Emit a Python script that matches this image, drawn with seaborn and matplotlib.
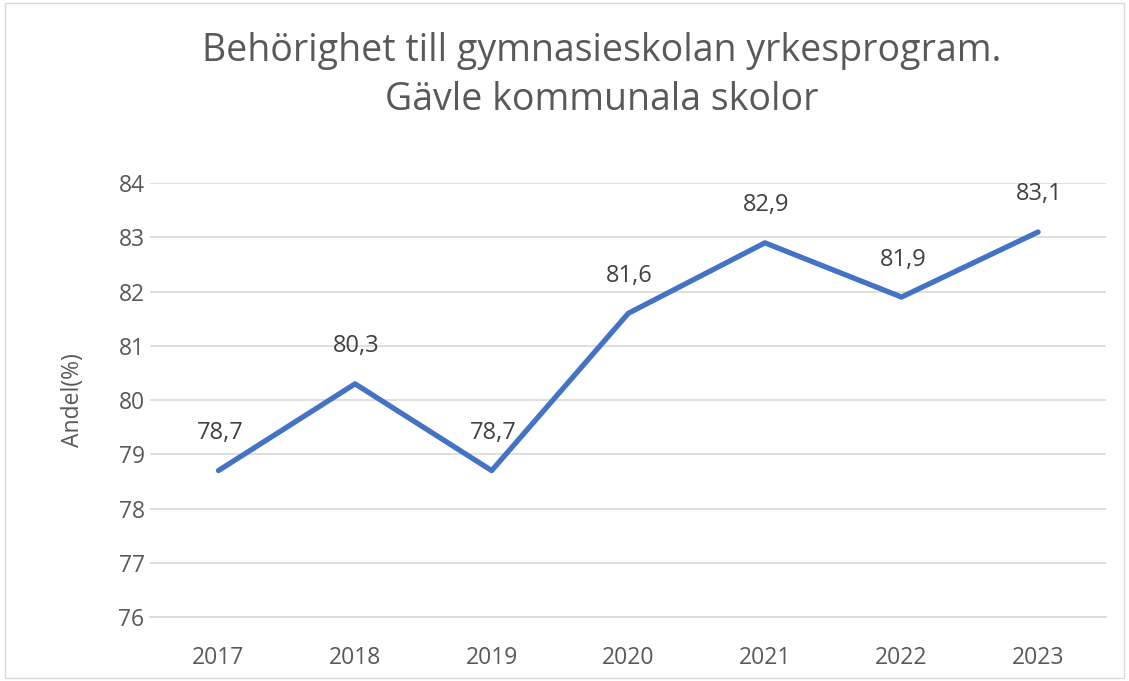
import pandas as pd
import matplotlib.pyplot as plt
import seaborn as sns
from matplotlib.patches import Rectangle

sns.set_theme(style="white")
plt.rcParams['font.family'] = ['Open Sans', 'DejaVu Sans']

years = ['2017', '2018', '2019', '2020', '2021', '2022', '2023']
andel = [78.7, 80.3, 78.7, 81.6, 82.9, 81.9, 83.1]

df = pd.DataFrame({'År': years, 'Andel': andel})

grey = '#595959'

fig = plt.figure(figsize=(11.29, 6.81), dpi=100)
ax = fig.add_axes([0.133, 0.094, 0.847, 0.637])

sns.lineplot(data=df, x='År', y='Andel', ax=ax, color='#4472C4', linewidth=3.8,
             sort=False)

# data labels, centred ~37 px above each point
for i, v in enumerate(andel):
    ax.annotate(f"{v:.1f}".replace('.', ','), (i, v), xytext=(1, 27),
                textcoords='offset points', ha='center', va='center',
                fontsize=17, color='#404040')

ax.set_xlim(-0.5, len(years) - 0.5)
ax.set_ylim(76, 84)
ax.set_yticks(range(76, 85))
ax.yaxis.grid(True, color='#D9D9D9', linewidth=1.2)
ax.set_axisbelow(True)
ax.tick_params(axis='y', length=0, labelsize=16.5, labelcolor=grey, pad=4)
ax.tick_params(axis='x', length=0, labelsize=16.5, labelcolor=grey, pad=21)
ax.set_xlabel('')
ax.set_ylabel('Andel(%)', fontsize=16.5, color=grey, labelpad=24)
sns.despine(ax=ax, left=True, bottom=True)
ax.spines['bottom'].set_visible(True)
ax.spines['bottom'].set_color('#D9D9D9')

fig.text(0.533, 0.889, 'Behörighet till gymnasieskolan yrkesprogram.\nGävle kommunala skolor',
         ha='center', va='center', fontsize=27, color=grey, linespacing=1.38)

# outer frame
fig.patches.append(Rectangle((0.004, 0.004), 0.992, 0.992, transform=fig.transFigure,
                             fill=False, edgecolor='#D9D9D9', linewidth=1))

plt.savefig('out.png', dpi=100)
